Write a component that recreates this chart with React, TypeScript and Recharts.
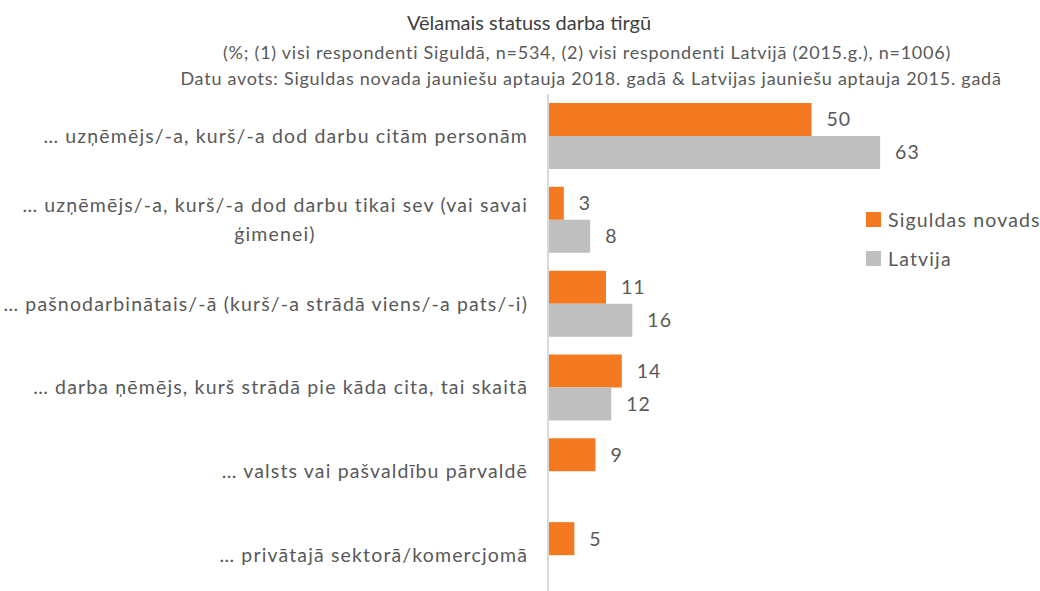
import { BarChart, Bar, XAxis, YAxis, LabelList } from 'recharts';

const categories = [
  '… uzņēmējs/-a, kurš/-a dod darbu citām personām',
  '… uzņēmējs/-a, kurš/-a dod darbu tikai sev (vai savai|ģimenei)',
  '… pašnodarbinātais/-ā (kurš/-a strādā viens/-a pats/-i)',
  '… darba ņēmējs, kurš strādā pie kāda cita, tai skaitā',
  '… valsts vai pašvaldību pārvaldē',
  '… privātajā sektorā/komercjomā',
];
const sigulda = [50, 3, 11, 14, 9, 5];
const latvija: Array<number | null> = [63, 8, 16, 12, null, null];

const ORANGE = '#F47920';
const GREY = '#BFBFBF';
const TEXT = '#595959';
const FONT = 'Lato, "Open Sans", sans-serif';
const FS = 19.5;
const LS = 1.15;

const data = categories.map((c, i) => ({ label: c, sigulda: sigulda[i], latvija: latvija[i] }));

function measure(text: string) {
  const ctx = document.createElement('canvas').getContext('2d') as any;
  ctx.font = `${FS}px Lato`;
  ctx.letterSpacing = `${LS}px`;
  return ctx.measureText(text).width;
}

function CategoryTick(props: any) {
  const { x, y, payload } = props;
  const lines = String(payload.value).split('|');
  const common = { fill: TEXT, fontSize: FS, fontFamily: FONT, letterSpacing: LS };
  if (lines.length === 1) {
    return (
      <text x={x} y={y} dy={7} textAnchor="end" {...common}>
        {lines[0]}
      </text>
    );
  }
  const w = measure(lines[0]);
  return (
    <g>
      <text x={x} y={y} dy={-8} textAnchor="end" {...common}>
        {lines[0]}
      </text>
      <text x={x - w / 2} y={y} dy={21} textAnchor="middle" {...common}>
        {lines[1]}
      </text>
    </g>
  );
}

const legendItems = [
  { name: 'Siguldas novads', color: ORANGE },
  { name: 'Latvija', color: GREY },
];

export default function App() {
  return (
    <div style={{ position: 'fixed', left: 0, top: 0, width: 1040, height: 591, overflow: 'hidden', background: '#fff' }}>
      <div style={{ position: 'absolute', left: 0, width: 1058, top: 10, textAlign: 'center', fontFamily: FONT, fontSize: 20, color: '#404040' }}>
        Vēlamais statuss darba tirgū
      </div>
      <div style={{ position: 'absolute', left: 0, width: 1174, top: 41, textAlign: 'center', fontFamily: FONT, fontSize: 18, letterSpacing: 0.75, color: TEXT, whiteSpace: 'nowrap' }}>
        (%; (1) visi respondenti Siguldā, n=534, (2) visi respondenti Latvijā (2015.g.), n=1006)
      </div>
      <div style={{ position: 'absolute', left: 0, width: 1182, top: 67, textAlign: 'center', fontFamily: FONT, fontSize: 18, letterSpacing: 0.75, color: TEXT, whiteSpace: 'nowrap' }}>
        Datu avots: Siguldas novada jauniešu aptauja 2018. gadā &amp; Latvijas jauniešu aptauja 2015. gadā
      </div>
      <BarChart
        width={1040}
        height={600}
        data={data}
        layout="vertical"
        margin={{ top: 94, right: 123, left: 0, bottom: 3 }}
        barGap={0}
        barSize={33}
      >
        <XAxis type="number" domain={[0, 70]} hide />
        <YAxis
          type="category"
          dataKey="label"
          width={548}
          axisLine={{ stroke: '#D9D9D9', strokeWidth: 2 }}
          tickLine={false}
          tickSize={0}
          tickMargin={20}
          tick={<CategoryTick />}
          interval={0}
        />
        <Bar dataKey="sigulda" name="Siguldas novads" fill={ORANGE} isAnimationActive={false}>
          <LabelList dataKey="sigulda" position="right" offset={15} fill={TEXT} fontSize={FS} fontFamily={FONT} letterSpacing={1} />
        </Bar>
        <Bar dataKey="latvija" name="Latvija" fill={GREY} isAnimationActive={false}>
          <LabelList
            dataKey="latvija"
            position="right"
            offset={15}
            fill={TEXT}
            fontSize={FS}
            fontFamily={FONT}
            letterSpacing={1}
            formatter={(v: any) => (v == null ? '' : v)}
          />
        </Bar>
      </BarChart>
      <div style={{ position: 'absolute', left: 866, top: 200, fontFamily: FONT, fontSize: FS, letterSpacing: LS, color: TEXT, whiteSpace: 'nowrap' }}>
        {legendItems.map((it) => (
          <div key={it.name} style={{ display: 'flex', alignItems: 'center', height: 39 }}>
            <span style={{ width: 15, height: 15, background: it.color, marginRight: 7, display: 'inline-block' }} />
            {it.name}
          </div>
        ))}
      </div>
    </div>
  );
}
